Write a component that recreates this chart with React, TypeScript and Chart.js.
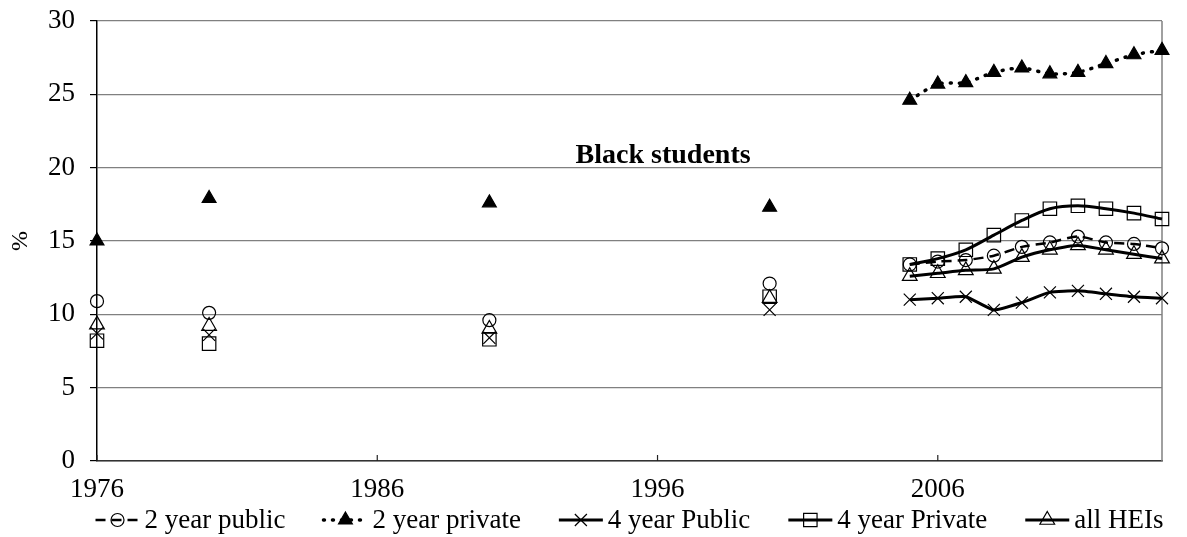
import React, { useEffect, useRef } from 'react';
import { Chart, registerables } from 'chart.js';

Chart.register(...registerables);

// ---- data ----
const years = [1976, 1980, 1990, 2000, 2005, 2006, 2007, 2008, 2009, 2010, 2011, 2012, 2013, 2014];
const twoYearPublic = [10.9, 10.1, 9.6, 12.1, 13.4, 13.6, 13.7, 14.0, 14.6, 14.9, 15.3, 14.9, 14.8, 14.5];
const twoYearPrivate = [15.0, 17.9, 17.6, 17.3, 24.6, 25.7, 25.8, 26.5, 26.8, 26.4, 26.5, 27.1, 27.7, 28.0];
const fourYearPublic = [8.7, 8.6, 8.4, 10.3, 11.0, 11.1, 11.2, 10.3, 10.8, 11.5, 11.6, 11.4, 11.2, 11.1];
const fourYearPrivate = [8.2, 8.0, 8.3, 11.2, 13.4, 13.8, 14.4, 15.4, 16.4, 17.2, 17.4, 17.2, 16.9, 16.5];
const allHEIs = [9.3, 9.2, 9.0, 11.1, 12.6, 12.8, 13.0, 13.1, 13.9, 14.4, 14.7, 14.4, 14.1, 13.8];
const seriesLabels = ['2 year public', '2 year private', '4 year Public', '4 year Private', 'all HEIs'];
const seriesValues = [twoYearPublic, twoYearPrivate, fourYearPublic, fourYearPrivate, allHEIs];
const xTickYears = [1976, 1986, 1996, 2006];
const yTickValues = [0, 5, 10, 15, 20, 25, 30];
const chartTitle = 'Black students';
const yAxisTitle = '%';

// ---- styles ----
const FONT = '"Liberation Serif", "Times New Roman", serif';
type Sty = { dash: number[]; width: number; cap: CanvasLineCap; marker: string; radius: number; fill: boolean; tension: number };
const styles: Sty[] = [
  { dash: [10, 6], width: 2.5, cap: 'butt', marker: 'circle', radius: 6.5, fill: false, tension: 0.25 },
  { dash: [1, 8], width: 3.5, cap: 'round', marker: 'triangle', radius: 8, fill: true, tension: 0.25 },
  { dash: [], width: 3, cap: 'butt', marker: 'crossRot', radius: 8.5, fill: false, tension: 0.15 },
  { dash: [], width: 3, cap: 'butt', marker: 'rect', radius: 9.5, fill: false, tension: 0.3 },
  { dash: [], width: 3, cap: 'butt', marker: 'triangle', radius: 8.5, fill: false, tension: 0.25 },
];

function toPoints(values: number[]) {
  const pts: { x: number; y: number | null }[] = [];
  years.forEach((yr, i) => {
    if (i > 0 && yr - years[i - 1] > 1) pts.push({ x: (yr + years[i - 1]) / 2, y: null });
    pts.push({ x: yr, y: values[i] });
  });
  return pts;
}

function drawMarker(ctx: CanvasRenderingContext2D, s: Sty, x: number, y: number) {
  const r = s.radius;
  ctx.beginPath();
  ctx.setLineDash([]);
  ctx.lineWidth = 1.2;
  ctx.strokeStyle = '#000';
  if (s.marker === 'circle') {
    ctx.arc(x, y, r, 0, Math.PI * 2);
  } else if (s.marker === 'triangle') {
    for (let k = 0; k < 3; k++) {
      const a = (k * 2 * Math.PI) / 3;
      const px = x + Math.sin(a) * r;
      const py = y - Math.cos(a) * r;
      if (k === 0) ctx.moveTo(px, py); else ctx.lineTo(px, py);
    }
    ctx.closePath();
  } else if (s.marker === 'rect') {
    const h = r * Math.SQRT1_2;
    ctx.rect(x - h, y - h, 2 * h, 2 * h);
  } else if (s.marker === 'crossRot') {
    const h = r * Math.SQRT1_2;
    ctx.moveTo(x - h, y - h); ctx.lineTo(x + h, y + h);
    ctx.moveTo(x - h, y + h); ctx.lineTo(x + h, y - h);
  }
  if (s.fill) { ctx.fillStyle = '#000'; ctx.fill(); }
  ctx.stroke();
}

const LEGEND_FONT = 27;
const ICON_W = 44;
const ICON_GAP = 5;
const ITEM_GAP = 38;
const LEGEND_Y = 520;

const decorations = {
  id: 'decorations',
  beforeDatasetsDraw(chart: any) {
    const { ctx, chartArea, scales } = chart;
    const x = scales.x;
    ctx.save();
    ctx.strokeStyle = '#808080';
    ctx.lineWidth = 1.5;
    ctx.beginPath();
    ctx.moveTo(chartArea.right, chartArea.top);
    ctx.lineTo(chartArea.right, chartArea.bottom);
    ctx.stroke();
    ctx.strokeStyle = '#222';
    ctx.lineWidth = 1.2;
    xTickYears.forEach((v) => {
      const px = x.getPixelForValue(v);
      ctx.beginPath();
      ctx.moveTo(px, chartArea.bottom);
      ctx.lineTo(px, chartArea.bottom - 6);
      ctx.stroke();
    });
    ctx.restore();
  },
  afterDraw(chart: any) {
    const { ctx, scales, chartArea } = chart;
    ctx.save();
    // annotation title
    ctx.font = `bold 28px ${FONT}`;
    ctx.fillStyle = '#000';
    ctx.textAlign = 'center';
    ctx.textBaseline = 'middle';
    ctx.fillText(chartTitle, scales.x.getPixelForValue(1996.2), scales.y.getPixelForValue(20.8));
    // legend
    ctx.font = `${LEGEND_FONT}px ${FONT}`;
    const widths = seriesLabels.map((t) => ctx.measureText(t).width);
    const total = widths.reduce((a, w) => a + ICON_W + ICON_GAP + w, 0) + ITEM_GAP * (seriesLabels.length - 1);
    let cx = (chartArea.left + chartArea.right) / 2 - total / 2;
    seriesLabels.forEach((label, i) => {
      const s = styles[i];
      ctx.save();
      ctx.strokeStyle = '#000';
      ctx.lineWidth = s.width;
      ctx.lineCap = s.cap;
      ctx.setLineDash(s.dash);
      ctx.beginPath();
      ctx.moveTo(cx, LEGEND_Y);
      ctx.lineTo(cx + ICON_W, LEGEND_Y);
      ctx.stroke();
      drawMarker(ctx, s, cx + ICON_W / 2, LEGEND_Y);
      ctx.restore();
      ctx.fillStyle = '#000';
      ctx.textAlign = 'left';
      ctx.textBaseline = 'middle';
      ctx.fillText(label, cx + ICON_W + ICON_GAP, LEGEND_Y + 1);
      cx += ICON_W + ICON_GAP + widths[i] + ITEM_GAP;
    });
    ctx.restore();
  },
};

export default function App() {
  const ref = useRef<HTMLCanvasElement>(null);
  useEffect(() => {
    document.body.style.margin = '0';
    const canvas = ref.current!;
    Chart.defaults.font.family = FONT;
    const chart = new Chart(canvas, {
      type: 'line',
      data: {
        datasets: seriesLabels.map((label, i) => {
          const s = styles[i];
          return {
            label,
            data: toPoints(seriesValues[i]),
            borderColor: '#000',
            borderWidth: s.width,
            borderDash: s.dash,
            borderCapStyle: s.cap,
            tension: s.tension,
            spanGaps: false,
            pointStyle: s.marker,
            pointRadius: s.radius,
            pointHoverRadius: s.radius,
            pointBorderWidth: 1.2,
            pointBorderColor: '#000',
            pointBackgroundColor: s.fill ? '#000' : 'rgba(0,0,0,0)',
            fill: false,
            clip: false,
          } as any;
        }),
      },
      options: {
        animation: false,
        responsive: false,
        events: [],
        layout: { padding: { top: 21, right: 25, left: 0, bottom: 32 } },
        scales: {
          x: {
            type: 'linear',
            min: years[0],
            max: years[years.length - 1],
            afterBuildTicks: (s: any) => { s.ticks = xTickYears.map((v) => ({ value: v })); },
            afterFit: (s: any) => { s.height = 44; s.paddingLeft = 0; s.paddingRight = 0; },
            ticks: {
              font: { size: 27, family: FONT },
              color: '#000',
              padding: 5,
              maxRotation: 0,
              autoSkip: false,
              callback: (v: any) => String(v),
            },
            grid: { display: false },
            border: { display: true, color: '#333', width: 1.5 },
          },
          y: {
            min: 0,
            max: 30,
            afterBuildTicks: (s: any) => { s.ticks = yTickValues.map((v) => ({ value: v })); },
            afterFit: (s: any) => { s.width = 97; s.paddingTop = 0; s.paddingBottom = 0; },
            ticks: { font: { size: 27, family: FONT }, color: '#000', padding: 15 },
            grid: { color: '#808080', lineWidth: 1.2, tickLength: 7, tickColor: '#000' },
            border: { display: true, color: '#000', width: 1.5 },
            title: { display: true, text: yAxisTitle, font: { size: 24, family: FONT }, color: '#000', padding: { top: 6, bottom: 0 } },
          },
        },
        plugins: {
          title: { display: false },
          tooltip: { enabled: false },
          legend: { display: false },
        },
      } as any,
      plugins: [decorations],
    });
    return () => chart.destroy();
  }, []);
  return (
    <div style={{ width: 1187, height: 537 }}>
      <canvas ref={ref} width={1187} height={537} style={{ display: 'block' }} />
    </div>
  );
}
